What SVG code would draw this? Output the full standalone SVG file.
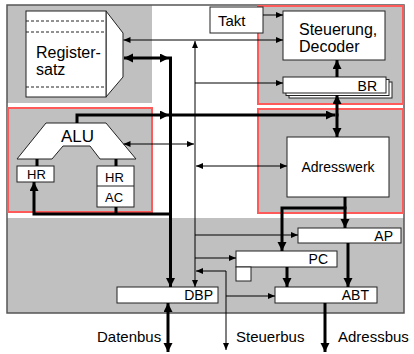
<svg xmlns="http://www.w3.org/2000/svg" width="414" height="354" viewBox="0 0 414 354">
<style>
.bg{fill:#c0c0c0;stroke:none}
.red{fill:#c0c0c0;stroke:#ff5a5a;stroke-width:2}
.box{fill:#fff;stroke:#222;stroke-width:1}
.t{font-family:"Liberation Sans",Arial,sans-serif;fill:#000}
.thin{stroke:#000;stroke-width:1;fill:none}
.thick{stroke:#000;stroke-width:3;fill:none}
.dash{stroke:#222;stroke-width:1;stroke-dasharray:3,2}
</style>
<defs>
<marker id="ha" markerUnits="userSpaceOnUse" markerWidth="10" markerHeight="10" refX="9" refY="4.5" orient="auto-start-reverse"><path d="M0,0 L9,4.5 L0,9 z" fill="#000"/></marker>
<marker id="ta" markerUnits="userSpaceOnUse" markerWidth="8" markerHeight="8" refX="7" refY="3" orient="auto-start-reverse"><path d="M0,0 L7,3 L0,6 z" fill="#000"/></marker>
</defs>
<g id="background">
<rect x="7" y="5" width="397" height="308" fill="#fff"/>
<rect class="bg" x="7" y="5" width="145" height="98"/>
<rect class="bg" x="7" y="218" width="397" height="95"/>
<rect x="7" y="5" width="397" height="308" fill="none" stroke="#555" stroke-width="1.5"/>
<rect class="red" x="8" y="108" width="144" height="104"/>
<rect class="red" x="258" y="6" width="145" height="98"/>
<rect class="red" x="258" y="109" width="145" height="104"/>
</g>
<g id="registersatz">
<polygon class="box" points="106,11 123,33 123,77 106,97"/>
<rect class="box" x="26" y="11" width="80" height="86"/>
<line class="dash" x1="26" y1="21" x2="106" y2="21"/>
<line class="dash" x1="26" y1="32" x2="106" y2="32"/>
<line class="dash" x1="26" y1="87" x2="106" y2="87"/>
<text class="t" x="36" y="58" font-size="16">Register-</text>
<text class="t" x="36" y="75" font-size="16">satz</text>
</g>
<g id="takt">
<rect class="box" x="210" y="7" width="53" height="26"/>
<text class="t" x="218" y="26" font-size="15">Takt</text>
</g>
<g id="steuerung">
<rect class="box" x="283" y="11" width="102" height="49"/>
<text class="t" x="299" y="35" font-size="16">Steuerung,</text>
<text class="t" x="299" y="52" font-size="16">Decoder</text>
</g>
<g id="br">
<rect class="box" x="289" y="82" width="103" height="16"/>
<rect class="box" x="286" y="79.5" width="103" height="16"/>
<rect class="box" x="283" y="77" width="103" height="16"/>
<text class="t" x="377" y="91" font-size="14" text-anchor="end">BR</text>
</g>
<g id="alu">
<path d="M46,123 L106,123 L136,159 L100,159 L90,146 L63,146 L52,159 L17,159 Z" fill="#fff" stroke="#222" stroke-width="1"/>
<text class="t" x="61" y="142" font-size="17">ALU</text>
</g>
<g id="hr1">
<rect class="box" x="17" y="166" width="37" height="16"/>
<text class="t" x="27" y="179" font-size="13">HR</text>
</g>
<g id="hr-ac">
<rect class="box" x="97" y="166" width="37" height="41"/>
<line x1="97" y1="186" x2="134" y2="186" stroke="#222" stroke-width="1"/>
<text class="t" x="105" y="182" font-size="13">HR</text>
<text class="t" x="105" y="202" font-size="13">AC</text>
</g>
<g id="adresswerk">
<rect class="box" x="287" y="137" width="102" height="60"/>
<text class="t" x="338" y="172" font-size="14" text-anchor="middle">Adresswerk</text>
</g>
<g id="ap">
<rect class="box" x="298" y="228" width="103" height="15"/>
<text class="t" x="393" y="241" font-size="14" text-anchor="end">AP</text>
</g>
<g id="pc">
<rect class="box" x="236" y="251" width="101" height="16"/>
<rect class="box" x="236" y="267" width="15" height="14"/>
<text class="t" x="328" y="264" font-size="14" text-anchor="end">PC</text>
</g>
<g id="abt">
<rect class="box" x="275" y="287" width="102" height="16"/>
<text class="t" x="369" y="300" font-size="14" text-anchor="end">ABT</text>
</g>
<g id="dbp">
<rect class="box" x="117" y="287" width="101" height="16"/>
<text class="t" x="213" y="300" font-size="14" text-anchor="end">DBP</text>
</g>
<g id="connectors">
<line class="thin" x1="123.5" y1="40" x2="283" y2="40" marker-start="url(#ta)" marker-end="url(#ta)"/>
<line class="thin" x1="195" y1="41" x2="195" y2="287" marker-start="url(#ta)" marker-end="url(#ta)"/>
<line class="thin" x1="195" y1="83" x2="283" y2="83" marker-end="url(#ta)"/>
<line class="thin" x1="263" y1="15" x2="283" y2="15" marker-end="url(#ta)"/>
<line class="thin" x1="123.5" y1="144" x2="194" y2="144" marker-start="url(#ta)" marker-end="url(#ta)"/>
<line class="thin" x1="196" y1="166" x2="287" y2="166" marker-start="url(#ta)" marker-end="url(#ta)"/>
<line class="thin" x1="195" y1="235" x2="298" y2="235" marker-end="url(#ta)"/>
<line class="thin" x1="195" y1="258" x2="236" y2="258" marker-end="url(#ta)"/>
<polyline class="thin" points="196,271 226,271 226,350" marker-start="url(#ta)" marker-end="url(#ta)"/>
<line class="thin" x1="226" y1="296" x2="275" y2="296" marker-end="url(#ta)"/>
<line class="thick" x1="124" y1="58" x2="169" y2="58" marker-start="url(#ha)" marker-end="url(#ha)"/>
<line class="thick" x1="170.5" y1="56.5" x2="170.5" y2="287" marker-end="url(#ha)"/>
<polyline class="thick" points="77,123 77,115 169,115" marker-end="url(#ha)"/>
<line class="thick" x1="169" y1="115" x2="335" y2="115" marker-end="url(#ha)"/>
<line class="thick" x1="337" y1="116.5" x2="337" y2="95" marker-end="url(#ha)"/>
<line class="thick" x1="337" y1="113.5" x2="337" y2="137" marker-end="url(#ha)"/>
<line class="thick" x1="337" y1="77" x2="337" y2="60" marker-end="url(#ha)"/>
<line class="thick" x1="37" y1="159" x2="37" y2="166"/>
<line class="thick" x1="116" y1="159" x2="116" y2="166"/>
<line class="thick" x1="116" y1="207" x2="116" y2="214"/>
<polyline class="thick" points="172,214 34,214 34,182" marker-end="url(#ha)"/>
<line class="thick" x1="345" y1="197" x2="345" y2="228" marker-end="url(#ha)"/>
<polyline class="thick" points="346.5,208 282,208 282,251" marker-end="url(#ha)"/>
<line class="thick" x1="348" y1="243" x2="348" y2="287" marker-end="url(#ha)"/>
<line class="thick" x1="287" y1="267" x2="287" y2="287" marker-end="url(#ha)"/>
<line class="thick" x1="325" y1="303" x2="325" y2="352" marker-end="url(#ha)"/>
<line class="thick" x1="168" y1="303" x2="168" y2="352" marker-start="url(#ha)" marker-end="url(#ha)"/>
</g>
<g id="labels">
<text class="t" x="97" y="342" font-size="15">Datenbus</text>
<text class="t" x="236" y="342" font-size="15">Steuerbus</text>
<text class="t" x="338" y="342" font-size="15">Adressbus</text>
</g>
</svg>
